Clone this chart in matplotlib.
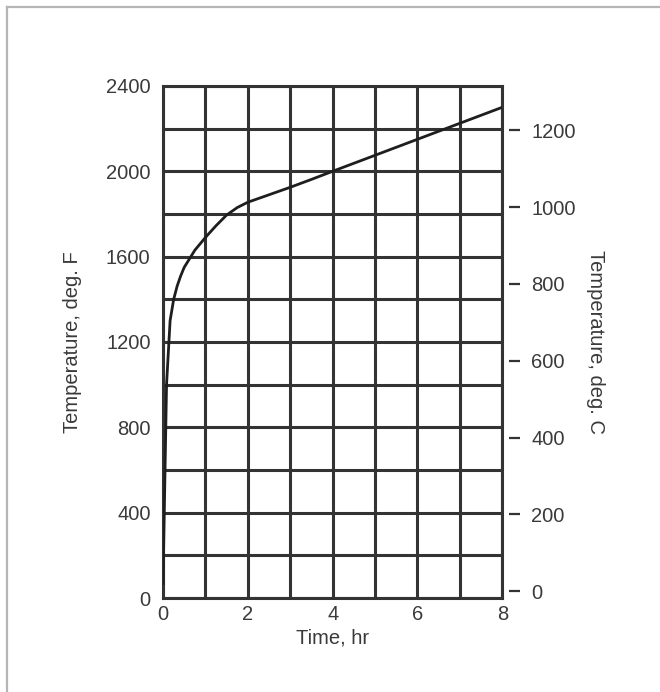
import matplotlib
matplotlib.use("Agg")
import matplotlib.pyplot as plt
from matplotlib.lines import Line2D

# ASTM-style standard fire curve
time_hr = [0, 0.083, 0.167, 0.25, 0.333, 0.417, 0.5, 0.75, 1.0, 1.25, 1.5,
           1.75, 2.0, 2.5, 3.0, 3.5, 4.0, 5.0, 6.0, 7.0, 8.0]
temp_f = [68, 1000, 1300, 1399, 1462, 1510, 1550, 1630, 1690, 1745, 1795,
          1830, 1855, 1890, 1925, 1962, 2000, 2075, 2150, 2225, 2300]

x_ticks = [0, 2, 4, 6, 8]
f_ticks = [0, 400, 800, 1200, 1600, 2000, 2400]
c_ticks = [0, 200, 400, 600, 800, 1000, 1200]

DARK = "#333333"
TXT = "#3a3a3a"
plt.rcParams["font.family"] = ["Liberation Sans", "DejaVu Sans"]

fig = plt.figure(figsize=(6.6, 6.92), dpi=100)
ax = fig.add_axes([0.247, 0.1358, 0.514, 0.740])

ax.plot(time_hr, temp_f, color="#1e1e1e", lw=2.0, zorder=3)

ax.set_xlim(0, 8)
ax.set_ylim(0, 2400)
ax.set_xticks(range(0, 9), minor=True)
ax.set_xticks(x_ticks)
ax.set_yticks(range(0, 2401, 200), minor=True)
ax.set_yticks(f_ticks)
ax.grid(True, which="both", color=DARK, lw=2.2)
ax.tick_params(which="both", length=0, labelsize=14.5, labelcolor=TXT)
ax.tick_params(axis="y", pad=9)
ax.tick_params(axis="x", pad=5)
for sp in ax.spines.values():
    sp.set_color(DARK)
    sp.set_linewidth(2.2)

ax.set_xlabel("Time, hr", fontsize=14.5, color=TXT, labelpad=3)
ax.set_ylabel("Temperature, deg. F", fontsize=14.5, color=TXT, labelpad=17)

# Celsius scale on the right
ax2 = ax.twinx()
ax2.set_ylim((0 - 32) / 1.8, (2400 - 32) / 1.8)
ax2.set_yticks(c_ticks)
ax2.spines["right"].set_position(("outward", 5))
for sp in ax2.spines.values():
    sp.set_visible(False)
ax2.tick_params(axis="y", length=8, width=1.6, color=DARK, pad=8,
                labelsize=14.5, labelcolor=TXT)
ax2.set_ylabel("Temperature, deg. C", fontsize=14.5, color=TXT,
               rotation=-90, labelpad=21)

# light frame around the figure
fig.add_artist(Line2D([7 / 660, 1], [1 - 7 / 692, 1 - 7 / 692],
                      transform=fig.transFigure, color="#b5b5b5", lw=1.6))
fig.add_artist(Line2D([7 / 660, 7 / 660], [0, 1 - 7 / 692],
                      transform=fig.transFigure, color="#b5b5b5", lw=1.6))

fig.savefig("out.png", dpi=100)
